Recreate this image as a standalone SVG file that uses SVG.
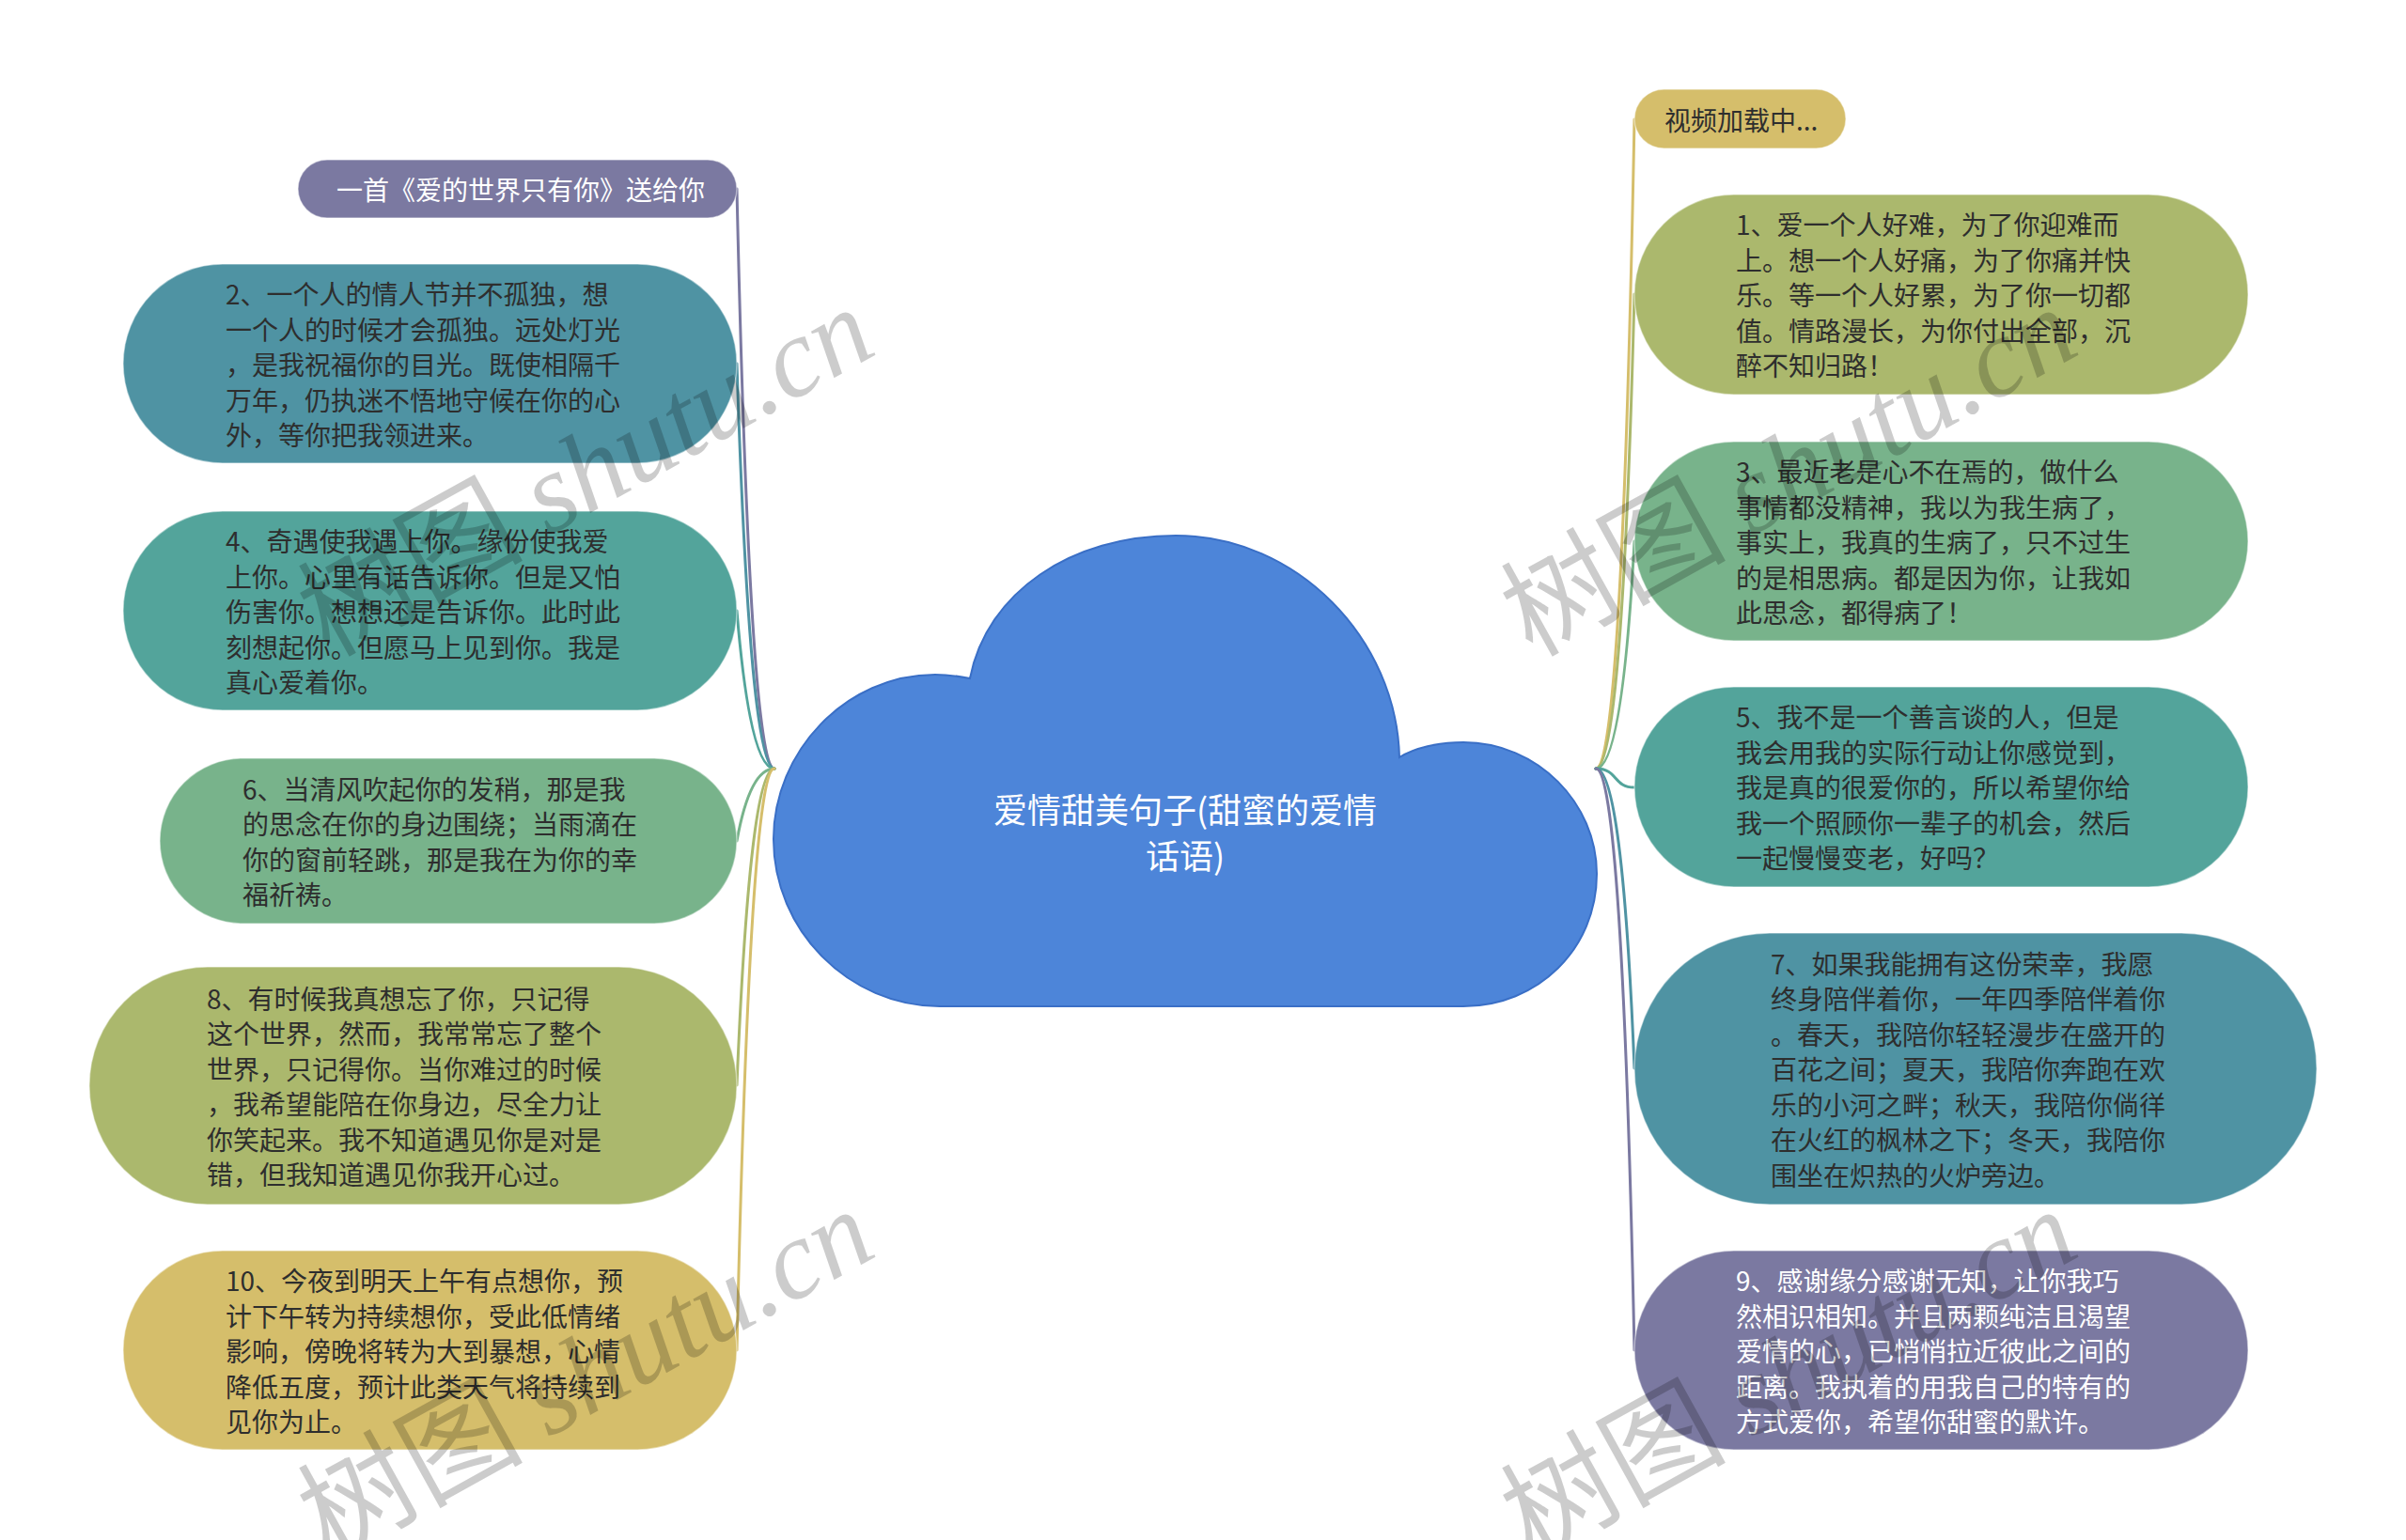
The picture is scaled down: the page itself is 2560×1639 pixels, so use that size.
<svg xmlns="http://www.w3.org/2000/svg" width="2560" height="1639" viewBox="0 0 2560 1639">
<style>
  .t{font-family:"Noto Sans CJK SC","Noto Sans",sans-serif;font-size:28px;fill:#2e2e2e;dominant-baseline:central}
  .w{fill:#ffffff}
  .c{font-family:"Noto Sans CJK SC","Noto Sans",sans-serif;font-size:36px;fill:#ffffff;dominant-baseline:central;text-anchor:middle}
  .node{stroke:#ffffff;stroke-opacity:0.45;stroke-width:1.5}
  .ln{fill:none;stroke-width:3;stroke-linecap:round}
  .wm{font-family:"Noto Sans CJK SC",serif;font-size:120px;fill:#000000;fill-opacity:0.2}
  .wm tspan.en{font-family:"Liberation Serif",serif;font-style:italic}
</style>
<rect x="0" y="0" width="2560" height="1639" fill="#ffffff"/>
<g id="connectors">
  <path class="ln" stroke="#7b79a1" d="M824 818 Q798 818 784 201"/>
  <path class="ln" stroke="#4f93a3" d="M824 818 Q798 818 784 387"/>
  <path class="ln" stroke="#53a49b" d="M824 818 Q798 818 784 650"/>
  <path class="ln" stroke="#78b38b" d="M824 818 Q798 818 784 895"/>
  <path class="ln" stroke="#abb86d" d="M824 818 Q798 818 784 1155"/>
  <path class="ln" stroke="#d5be6b" d="M824 818 Q798 818 784 1437"/>
  <path class="ln" stroke="#d5be6b" d="M1698 818 Q1726 818 1739 127"/>
  <path class="ln" stroke="#abb86d" d="M1698 818 Q1726 818 1739 313"/>
  <path class="ln" stroke="#78b38b" d="M1698 818 Q1726 818 1739 576"/>
  <path class="ln" stroke="#53a49b" d="M1698 818 C1722 818 1716 838 1739 838"/>
  <path class="ln" stroke="#4f93a3" d="M1698 818 Q1726 818 1739 1137"/>
  <path class="ln" stroke="#7b79a1" d="M1698 818 Q1726 818 1739 1437"/>
</g>
<g id="root">
  <path d="M1032 722 C1050 630 1140 570 1251 570 C1380 570 1486 680 1489 806 C1505 796 1530 790 1557 790 C1636 790 1699 855 1699 930 C1699 1010 1636 1071 1557 1071 L1000 1071 C903 1071 823 990 823 893 C823 800 900 718 995 718 C1010 718 1022 720 1032 722 Z" fill="#4d85d9" stroke="#3a6fc6" stroke-width="2"/>
  <text class="c" x="1261" y="860">爱情甜美句子(甜蜜的爱情</text>
  <text class="c" x="1261" y="909">话语)</text>
</g>
<g id="node-title">
  <rect class="node" x="317" y="170" width="467" height="62" rx="31" fill="#7b79a1"/>
  <text class="t w" x="358" y="201">一首《爱的世界只有你》送给你</text>
</g>
<g id="node-2">
  <rect class="node" x="131" y="281" width="653" height="212" rx="106" fill="#4f93a3"/>
  <text class="t" x="240" y="312">2、一个人的情人节并不孤独，想</text>
  <text class="t" x="240" y="350">一个人的时候才会孤独。远处灯光</text>
  <text class="t" x="240" y="387">，是我祝福你的目光。既使相隔千</text>
  <text class="t" x="240" y="425">万年，仍执迷不悟地守候在你的心</text>
  <text class="t" x="240" y="462">外，等你把我领进来。</text>
</g>
<g id="node-4">
  <rect class="node" x="131" y="544" width="653" height="212" rx="106" fill="#53a49b"/>
  <text class="t" x="240" y="575">4、奇遇使我遇上你。缘份使我爱</text>
  <text class="t" x="240" y="613">上你。心里有话告诉你。但是又怕</text>
  <text class="t" x="240" y="650">伤害你。想想还是告诉你。此时此</text>
  <text class="t" x="240" y="688">刻想起你。但愿马上见到你。我是</text>
  <text class="t" x="240" y="725">真心爱着你。</text>
</g>
<g id="node-6">
  <rect class="node" x="170" y="807" width="614" height="176" rx="88" fill="#78b38b"/>
  <text class="t" x="258" y="839">6、当清风吹起你的发稍，那是我</text>
  <text class="t" x="258" y="876">的思念在你的身边围绕；当雨滴在</text>
  <text class="t" x="258" y="914">你的窗前轻跳，那是我在为你的幸</text>
  <text class="t" x="258" y="951">福祈祷。</text>
</g>
<g id="node-8">
  <rect class="node" x="95" y="1029" width="689" height="253" rx="126" fill="#abb86d"/>
  <text class="t" x="220" y="1062">8、有时候我真想忘了你，只记得</text>
  <text class="t" x="220" y="1099">这个世界，然而，我常常忘了整个</text>
  <text class="t" x="220" y="1137">世界，只记得你。当你难过的时候</text>
  <text class="t" x="220" y="1174">，我希望能陪在你身边，尽全力让</text>
  <text class="t" x="220" y="1212">你笑起来。我不知道遇见你是对是</text>
  <text class="t" x="220" y="1249">错，但我知道遇见你我开心过。</text>
</g>
<g id="node-10">
  <rect class="node" x="131" y="1331" width="653" height="212" rx="106" fill="#d5be6b"/>
  <text class="t" x="240" y="1362">10、今夜到明天上午有点想你，预</text>
  <text class="t" x="240" y="1400">计下午转为持续想你，受此低情绪</text>
  <text class="t" x="240" y="1437">影响，傍晚将转为大到暴想，心情</text>
  <text class="t" x="240" y="1475">降低五度，预计此类天气将持续到</text>
  <text class="t" x="240" y="1512">见你为止。</text>
</g>
<g id="node-video">
  <rect class="node" x="1739" y="95" width="225" height="63" rx="31.5" fill="#d5be6b"/>
  <text class="t" x="1771" y="127">视频加载中...</text>
</g>
<g id="node-1">
  <rect class="node" x="1739" y="207" width="653" height="213" rx="106" fill="#abb86d"/>
  <text class="t" x="1847" y="238">1、爱一个人好难，为了你迎难而</text>
  <text class="t" x="1847" y="276">上。想一个人好痛，为了你痛并快</text>
  <text class="t" x="1847" y="313">乐。等一个人好累，为了你一切都</text>
  <text class="t" x="1847" y="351">值。情路漫长，为你付出全部，沉</text>
  <text class="t" x="1847" y="388">醉不知归路！</text>
</g>
<g id="node-3">
  <rect class="node" x="1739" y="470" width="653" height="212" rx="106" fill="#78b38b"/>
  <text class="t" x="1847" y="501">3、最近老是心不在焉的，做什么</text>
  <text class="t" x="1847" y="539">事情都没精神，我以为我生病了，</text>
  <text class="t" x="1847" y="576">事实上，我真的生病了，只不过生</text>
  <text class="t" x="1847" y="614">的是相思病。都是因为你，让我如</text>
  <text class="t" x="1847" y="651">此思念，都得病了！</text>
</g>
<g id="node-5">
  <rect class="node" x="1739" y="731" width="653" height="213" rx="106" fill="#53a49b"/>
  <text class="t" x="1847" y="762">5、我不是一个善言谈的人，但是</text>
  <text class="t" x="1847" y="800">我会用我的实际行动让你感觉到，</text>
  <text class="t" x="1847" y="837">我是真的很爱你的，所以希望你给</text>
  <text class="t" x="1847" y="875">我一个照顾你一辈子的机会，然后</text>
  <text class="t" x="1847" y="912">一起慢慢变老，好吗？</text>
</g>
<g id="node-7">
  <rect class="node" x="1739" y="993" width="726" height="289" rx="144" fill="#4f93a3"/>
  <text class="t" x="1884" y="1025">7、如果我能拥有这份荣幸，我愿</text>
  <text class="t" x="1884" y="1062">终身陪伴着你，一年四季陪伴着你</text>
  <text class="t" x="1884" y="1100">。春天，我陪你轻轻漫步在盛开的</text>
  <text class="t" x="1884" y="1137">百花之间；夏天，我陪你奔跑在欢</text>
  <text class="t" x="1884" y="1175">乐的小河之畔；秋天，我陪你倘徉</text>
  <text class="t" x="1884" y="1212">在火红的枫林之下；冬天，我陪你</text>
  <text class="t" x="1884" y="1250">围坐在炽热的火炉旁边。</text>
</g>
<g id="node-9">
  <rect class="node" x="1739" y="1331" width="653" height="212" rx="106" fill="#7b79a1"/>
  <text class="t w" x="1847" y="1362">9、感谢缘分感谢无知，让你我巧</text>
  <text class="t w" x="1847" y="1400">然相识相知。并且两颗纯洁且渴望</text>
  <text class="t w" x="1847" y="1437">爱情的心，已悄悄拉近彼此之间的</text>
  <text class="t w" x="1847" y="1475">距离。我执着的用我自己的特有的</text>
  <text class="t w" x="1847" y="1512">方式爱你，希望你甜蜜的默许。</text>
</g>
<g id="watermarks">
  <text class="wm" x="350" y="700" transform="rotate(-29 350 700)">树图 <tspan class="en">shutu.cn</tspan></text>
  <text class="wm" x="1630" y="700" transform="rotate(-29 1630 700)">树图 <tspan class="en">shutu.cn</tspan></text>
  <text class="wm" x="350" y="1660" transform="rotate(-29 350 1660)">树图 <tspan class="en">shutu.cn</tspan></text>
  <text class="wm" x="1630" y="1660" transform="rotate(-29 1630 1660)">树图 <tspan class="en">shutu.cn</tspan></text>
</g>
</svg>
